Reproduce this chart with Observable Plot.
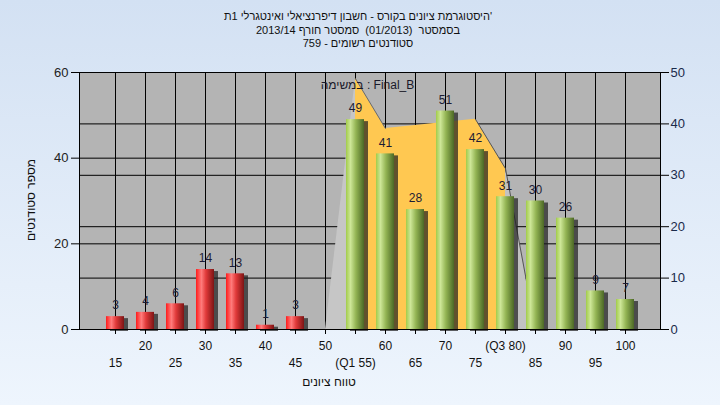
<!DOCTYPE html>
<html><head><meta charset="utf-8">
<script src="https://cdn.jsdelivr.net/npm/d3@7"></script>
<script src="https://cdn.jsdelivr.net/npm/@observablehq/plot@0.6"></script>
<style>
html,body{margin:0;padding:0;}
body{width:720px;height:405px;overflow:hidden;background:linear-gradient(to bottom,#d3e1f3,#eef5fd);font-family:"Liberation Sans",Arial,sans-serif;}
#wrap{position:relative;width:720px;height:405px;}
#chart{position:absolute;left:0;top:0;}
#title{position:absolute;left:0;top:10px;width:716px;text-align:center;font-size:11px;line-height:13.5px;color:#111;direction:rtl;}
#title div{white-space:pre;}
#ytitle{position:absolute;left:31px;top:200px;transform:translate(-50%,-50%) rotate(-90deg);font-size:12px;color:#111;white-space:pre;direction:rtl;}
</style></head><body>
<div id="wrap"><div id="chart"></div><div id="title"></div><div id="ytitle"></div></div>
<script>
// ---- data ----
const titleLines = [
  "'היסטוגרמת ציונים בקורס - חשבון דיפרנציאלי ואינטגרלי 1ת",
  "בסמסטר  (01/2013)  סמסטר חורף 2013/14",
  "סטודנטים רשומים - 759"
];
const categories = ["15","20","25","30","35","40","45","50","55","60","65","70","75","80","85","90","95","100"];
const counts = [3,4,6,14,13,1,3,0,49,41,28,51,42,31,30,26,9,7];
const tickLabels = ["15","20","25","30","35","40","45","50","(Q1 55)","60","65","70","75","(Q3 80)","85","90","95","100"];
const failing = [true,true,true,true,true,true,true,true,false,false,false,false,false,false,false,false,false,false];
const areaCats = ["50","55","60","65","70","75","80","85"];
const areaValues = [0,48.8,39.1,39.7,40.3,40.9,31.3,0]; // right axis units
const leftTicks = [0,20,40,60];
const rightTicks = [0,10,20,30,40,50];
const legendText = "במשימה : Final_B";
const xTitle = "טווח ציונים";
const yTitle = "מספר סטודנטים";

const k = 60 / 50; // right axis -> left axis units

const bars = categories.map((c,i)=>({cat:c, count:counts[i], label:tickLabels[i], fail:failing[i], i}));
const area = areaCats.map((c,i)=>({cat:c, v:areaValues[i]*k}));

const titleEl = document.getElementById("title");
titleLines.forEach(t => { const d = document.createElement("div"); d.textContent = t; titleEl.appendChild(d); });
document.getElementById("ytitle").textContent = yTitle;

const svg = Plot.plot({
  width:720, height:405,
  marginTop:72, marginBottom:76, marginLeft:79, marginRight:60,
  style:{background:"transparent", fontFamily:"Liberation Sans, Arial, sans-serif", fontSize:"12px", color:"#111"},
  x:{type:"band", domain:categories, paddingInner:0.411, paddingOuter:0.7055, axis:null},
  y:{domain:[0,60], axis:null},
  marks:[
    Plot.frame({fill:"#b4b4b4"}),
    Plot.gridX({stroke:"black", strokeOpacity:1}),
    Plot.ruleY([20,40], {stroke:"black"}),
    Plot.ruleY(rightTicks.slice(1,5).map(v=>v*k), {stroke:"black"}),
    Plot.areaY(area.slice(0,2), {x:"cat", y:"v", fill:"#c6c6c6"}),
    Plot.areaY(area.slice(6,8), {x:"cat", y:"v", fill:"#c2c2c2"}),
    Plot.areaY(area.slice(1,7), {x:"cat", y:"v", fill:"#ffc851"}),
    Plot.line(area.slice(1,3), {x:"cat", y:"v", stroke:"#6a6a6a", strokeWidth:1}),
    Plot.line(area.slice(5,8), {x:"cat", y:"v", stroke:"#555", strokeWidth:1}),
    Plot.barY(bars.filter(d=>d.count>0), {x:"cat", y:"count", fill:"#1e1e1e", fillOpacity:0.7, dx:4, dy:2, ariaLabel:"shadow"}),
    Plot.barY(bars.filter(d=>d.fail), {x:"cat", y:"count", fill:"url(#gRed)"}),
    Plot.barY(bars.filter(d=>!d.fail), {x:"cat", y:"count", fill:"url(#gGreen)"}),
    Plot.text(bars.filter(d=>d.count>0), {x:"cat", y:"count", text:d=>String(d.count), dy:-11, fill:"#1c1c34", fontSize:12}),
    Plot.frame({stroke:"black"}),
    Plot.axisX({tickSize:5, tickFormat:()=>"", label:null, stroke:"black"}),
    Plot.text(bars.filter(d=>d.i%2===1), {x:"cat", text:"label", frameAnchor:"bottom", lineAnchor:"middle", dy:17, fill:"#111", fontSize:12}),
    Plot.text(bars.filter(d=>d.i%2===0), {x:"cat", text:"label", frameAnchor:"bottom", lineAnchor:"middle", dy:34, fill:"#111", fontSize:12}),
    Plot.axisY(leftTicks, {anchor:"left", tickSize:8, tickPadding:3, label:null, fontSize:13, fill:"#222", stroke:"black"}),
    Plot.axisY(rightTicks.map(v=>v*k), {anchor:"right", tickSize:8, tickPadding:2, tickFormat:d=>String(Math.round(d/k)), label:null, fontSize:13, fill:"#1a2a4a", stroke:"black"}),
    Plot.text([xTitle], {text:d=>d, frameAnchor:"bottom", lineAnchor:"middle", textAnchor:"middle", dx:-41, dy:53, fill:"#111", fontSize:12, ariaLabel:"rtltext"}),
    Plot.text([legendText], {text:d=>d, frameAnchor:"top-left", lineAnchor:"middle", dx:288, dy:13, textAnchor:"middle", fill:"#1a1a2a", fontSize:12, ariaLabel:"rtltext"})
  ]
});

const s = d3.select(svg);
const defs = s.insert("defs", ":first-child");
const gr = defs.append("linearGradient").attr("id","gRed").attr("x1",0).attr("x2",1).attr("y1",0).attr("y2",0);
[[0,"#ff1c1c"],[0.3,"#ff7c7c"],[0.55,"#e23a3a"],[1,"#7c1414"]].forEach(([o,c])=>gr.append("stop").attr("offset",o).attr("stop-color",c));
const gg = defs.append("linearGradient").attr("id","gGreen").attr("x1",0).attr("x2",1).attr("y1",0).attr("y2",0);
[[0,"#a2cc4a"],[0.25,"#cde697"],[0.55,"#93b453"],[1,"#4c6826"]].forEach(([o,c])=>gg.append("stop").attr("offset",o).attr("stop-color",c));
const f = defs.append("filter").attr("id","blur").attr("x","-60%").attr("y","-20%").attr("width","220%").attr("height","140%");
f.append("feGaussianBlur").attr("stdDeviation",1.8);
s.selectAll('g[aria-label="shadow"]').attr("filter","url(#blur)");
s.selectAll('g[aria-label="rtltext"] text').attr("direction","rtl");
document.getElementById("chart").appendChild(svg);
</script>
</body></html>
